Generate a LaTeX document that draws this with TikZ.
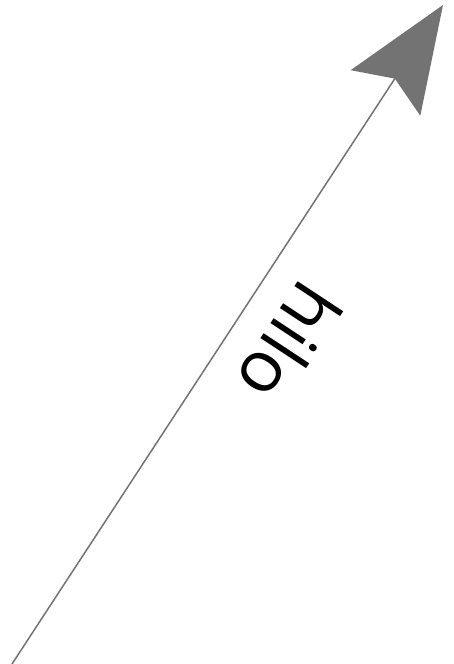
\documentclass[tikz,border=0pt]{standalone}
\usepackage{fontspec}
\setmainfont{Open Sans}
\usetikzlibrary{arrows.meta}

\begin{document}
\begin{tikzpicture}[x=1pt,y=1pt]
  \useasboundingbox (0,0) rectangle (454,664);
  \coordinate (start) at (12,0);
  \coordinate (tip) at (443,659);
  \draw[line width=1.5pt,color=black!55,-{Stealth[length=105pt,width=83pt,inset=17pt]}] (start) -- (tip);
  \node[font=\fontsize{72}{86}\selectfont,rotate=236.6] (lbl) at (290,321) {hilo};
\end{tikzpicture}
\end{document}
